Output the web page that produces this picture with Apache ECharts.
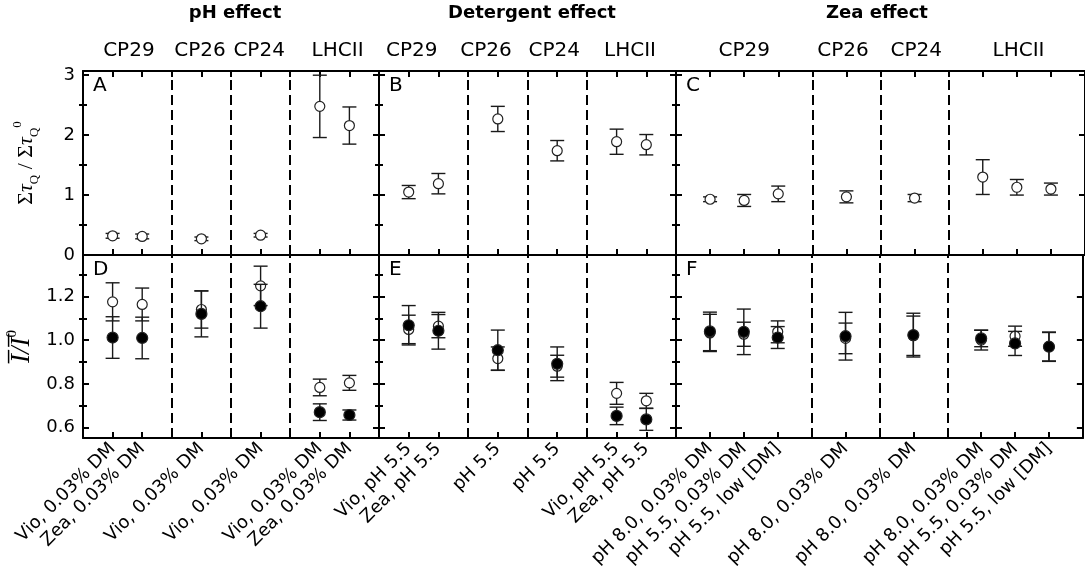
<!DOCTYPE html>
<html>
<head>
<meta charset="utf-8">
<script src="https://cdn.jsdelivr.net/npm/echarts@6/dist/echarts.min.js"></script>
<style>
  html, body { margin: 0; padding: 0; background: #fff; }
  #chart { width: 1085px; height: 573px; }
</style>
</head>
<body>
<div id="chart"></div>
<script>
// sample positions on each column's x scale (one unit per tick)
const posPH = [1, 2, 4, 6, 8, 9];
const posDet = [1, 2, 4, 6, 8, 9];
const posZea = [1, 2, 3, 5, 7, 9, 10, 11];

const labelsPH = ['Vio, 0.03% DM', 'Zea, 0.03% DM', 'Vio, 0.03% DM', 'Vio, 0.03% DM', 'Vio, 0.03% DM', 'Zea, 0.03% DM'];
const labelsDet = ['Vio, pH 5.5', 'Zea, pH 5.5', 'pH 5.5', 'pH 5.5', 'Vio, pH 5.5', 'Zea, pH 5.5'];
const labelsZea = ['pH 8.0, 0.03% DM', 'pH 5.5, 0.03% DM', 'pH 5.5, low [DM]', 'pH 8.0, 0.03% DM',
  'pH 8.0, 0.03% DM', 'pH 8.0, 0.03% DM', 'pH 5.5, 0.03% DM', 'pH 5.5, low [DM]'];

// dashed separators between proteins
const divPH = [3, 5, 7];
const divDet = [3, 5, 7];
const divZea = [4, 6, 8];

// protein names over each column and where they sit
const groupsPH = ['CP29', 'CP26', 'CP24', 'LHCII'];
const groupAtPH = [1.55, 3.95, 5.95, 8.6];
const groupsDet = ['CP29', 'CP26', 'CP24', 'LHCII'];
const groupAtDet = [1.1, 3.6, 5.9, 8.45];
const groupsZea = ['CP29', 'CP26', 'CP24', 'LHCII'];
const groupAtZea = [2, 4.9, 7.05, 10.05];

const effects = ['pH effect', 'Detergent effect', 'Zea effect'];

// top row: sum tau_Q / sum tau_Q^0 (open symbols)
const tauPH = [0.32, 0.31, 0.27, 0.33, 2.48, 2.16];
const tauErrPH = [0.04, 0.04, 0.03, 0.03, 0.52, 0.31];
const tauDet = [1.05, 1.19, 2.27, 1.74, 1.89, 1.84];
const tauErrDet = [0.11, 0.17, 0.21, 0.17, 0.21, 0.17];
const tauZea = [0.93, 0.91, 1.02, 0.97, 0.95, 1.30, 1.13, 1.10];
const tauErrZea = [0.04, 0.10, 0.13, 0.10, 0.06, 0.29, 0.13, 0.10];

// bottom row: I/I^0, open and filled symbols
const openPH = [1.175, 1.163, 1.14, 1.248, 0.784, 0.805];
const openErrPH = [0.087, 0.075, 0.085, 0.09, 0.038, 0.034];
const filledPH = [1.012, 1.01, 1.12, 1.155, 0.671, 0.658];
const filledErrPH = [0.095, 0.095, 0.105, 0.10, 0.038, 0.023];

const openDet = [1.049, 1.064, 0.916, 0.881, 0.757, 0.723];
const openErrDet = [0.065, 0.053, 0.053, 0.05, 0.05, 0.034];
const filledDet = [1.068, 1.043, 0.954, 0.892, 0.654, 0.638];
const filledErrDet = [0.09, 0.084, 0.092, 0.077, 0.04, 0.05];

const openZea = [1.033, 1.027, 1.038, 1.008, 1.02, 1.0, 1.018, 0.97];
const openErrZea = [0.085, 0.055, 0.05, 0.07, 0.09, 0.045, 0.046, 0.065];
const filledZea = [1.04, 1.038, 1.012, 1.018, 1.023, 1.008, 0.985, 0.97];
const filledErrZea = [0.088, 0.104, 0.05, 0.109, 0.10, 0.038, 0.055, 0.067];

const yTicksTop = [0, 1, 2, 3];
const yMinorTop = [0.5, 1.5, 2.5];
const yTicksBottom = [0.6, 0.8, 1.0, 1.2];
const yMinorBottom = [0.7, 0.9, 1.1, 1.3];

// layout
const colLeft = [83, 379, 676];
const colWidth = [296, 297, 416];
const colMax = [10, 10, 12];
const rowTop = [71, 255];
const rowHeight = [184, 183];
const yRange = [[0, 3.07], [0.553, 1.389]];
const FONT = 'DejaVu Sans';

const columns = [
  { pos: posPH, labels: labelsPH, div: divPH, groups: groupsPH, groupAt: groupAtPH,
    tau: tauPH, tauErr: tauErrPH, open: openPH, openErr: openErrPH, filled: filledPH, filledErr: filledErrPH },
  { pos: posDet, labels: labelsDet, div: divDet, groups: groupsDet, groupAt: groupAtDet,
    tau: tauDet, tauErr: tauErrDet, open: openDet, openErr: openErrDet, filled: filledDet, filledErr: filledErrDet },
  { pos: posZea, labels: labelsZea, div: divZea, groups: groupsZea, groupAt: groupAtZea,
    tau: tauZea, tauErr: tauErrZea, open: openZea, openErr: openErrZea, filled: filledZea, filledErr: filledErrZea }
];

function errorBar(params, api) {
  const x = api.value(0), y = api.value(1), e = api.value(2);
  const hi = api.coord([x, y + e]);
  const lo = api.coord([x, y - e]);
  const hw = 7;
  const st = { stroke: '#1a1a1a', lineWidth: 1.4 };
  return {
    type: 'group',
    children: [
      { type: 'line', shape: { x1: hi[0], y1: hi[1], x2: lo[0], y2: lo[1] }, style: st },
      { type: 'line', shape: { x1: hi[0] - hw, y1: hi[1], x2: hi[0] + hw, y2: hi[1] }, style: st },
      { type: 'line', shape: { x1: lo[0] - hw, y1: lo[1], x2: lo[0] + hw, y2: lo[1] }, style: st }
    ]
  };
}

const grid = [], xAxis = [], yAxis = [], series = [], graphic = [];
const axisLine = { show: true, onZero: false, lineStyle: { color: '#000', width: 2 } };

for (let r = 0; r < 2; r++) {
  for (let c = 0; c < 3; c++) {
    const col = columns[c];
    const g = grid.length;
    grid.push({ left: colLeft[c], top: rowTop[r], width: colWidth[c], height: rowHeight[r] });

    const xb = xAxis.length;
    xAxis.push({
      type: 'value', gridIndex: g, position: 'bottom', min: 0, max: colMax[c], interval: 1,
      axisLine, splitLine: { show: false },
      axisTick: { inside: true, length: 6, lineStyle: { color: '#000', width: 2 } },
      axisLabel: {
        show: r === 1, rotate: 45, margin: 8, fontFamily: FONT, fontSize: 18, color: '#000',
        formatter: v => { const i = col.pos.indexOf(v); return i < 0 ? '' : col.labels[i]; }
      }
    });
    xAxis.push({
      type: 'value', gridIndex: g, position: 'top', min: 0, max: colMax[c], interval: 1,
      axisLine, splitLine: { show: false },
      axisTick: { show: r === 0, inside: true, length: 6, lineStyle: { color: '#000', width: 2 } },
      axisLabel: {
        show: r === 0, customValues: col.groupAt, margin: 10, fontFamily: FONT, fontSize: 20, color: '#000',
        formatter: v => { const i = col.groupAt.indexOf(v); return i < 0 ? '' : col.groups[i]; }
      }
    });

    const majors = r === 0 ? yTicksTop : yTicksBottom;
    const minors = r === 0 ? yMinorTop : yMinorBottom;
    const yl = yAxis.length;
    ['left', 'right'].forEach(side => {
      const first = side === 'left' && c === 0;
      yAxis.push({
        type: 'value', gridIndex: g, position: side, min: yRange[r][0], max: yRange[r][1],
        axisLine, splitLine: { show: false },
        axisTick: { inside: true, length: 6, customValues: majors, lineStyle: { color: '#000', width: 2 } },
        axisLabel: {
          show: first, customValues: majors, margin: 8, fontFamily: FONT, fontSize: 18, color: '#000',
          formatter: v => r === 0 ? String(v) : v.toFixed(1)
        },
        name: first ? (r === 0
          ? '{s|Σ}{t|τ}{sub|Q}{s| / Σ}{t|τ}{sub|Q}{sup|0}'
          : '{b|I\u0305/I\u0305}{bsup|0}') : '',
        nameLocation: 'middle', nameRotate: 90, nameGap: r === 0 ? 42 : 44,
        nameTextStyle: {
          rich: {
            s: { fontFamily: 'Liberation Serif', fontSize: 22, color: '#000', lineHeight: 30 },
            t: { fontFamily: 'Liberation Serif', fontStyle: 'italic', fontSize: 22, color: '#000', lineHeight: 30 },
            sub: { fontFamily: 'Liberation Serif', fontSize: 13, color: '#000', verticalAlign: 'bottom', lineHeight: 30 },
            sup: { fontFamily: 'Liberation Serif', fontSize: 13, color: '#000', verticalAlign: 'top', lineHeight: 30 },
            b: { fontFamily: 'Liberation Serif', fontStyle: 'italic', fontSize: 27, color: '#000', lineHeight: 34 },
            bsup: { fontFamily: 'Liberation Serif', fontSize: 15, color: '#000', verticalAlign: 'top', lineHeight: 34 }
          }
        }
      });
      yAxis.push({
        type: 'value', gridIndex: g, position: side, min: yRange[r][0], max: yRange[r][1],
        axisLine: { show: false }, splitLine: { show: false }, axisLabel: { show: false },
        axisTick: { inside: true, length: 4, customValues: minors, lineStyle: { color: '#000', width: 2 } }
      });
    });

    const dividers = {
      silent: true, symbol: 'none', animation: false, label: { show: false },
      lineStyle: { color: '#000', width: 2, type: [10, 5] },
      data: col.div.map(v => ({ xAxis: v }))
    };

    const sets = r === 0
      ? [[col.tau, col.tauErr, '#fff']]
      : [[col.open, col.openErr, '#fff'], [col.filled, col.filledErr, '#000']];
    sets.forEach(([vals, errs, fill], k) => {
      const data = col.pos.map((p, i) => [p, vals[i], errs[i]]);
      series.push({
        type: 'custom', xAxisIndex: xb, yAxisIndex: yl, renderItem: errorBar,
        encode: { x: 0, y: 1 }, data, silent: true, z: 2 + k * 2,
        markLine: k === 0 ? dividers : undefined
      });
      series.push({
        type: 'scatter', xAxisIndex: xb, yAxisIndex: yl, data: data.map(d => [d[0], d[1]]),
        symbol: 'circle', symbolSize: fill === '#000' ? 11 : 10, silent: true, clip: false, z: 3 + k * 2,
        itemStyle: { color: fill, borderColor: '#222', borderWidth: 1.2, opacity: 1 }
      });
    });

    graphic.push({
      type: 'text', x: colLeft[c] + 10, y: rowTop[r] + 5,
      style: { text: 'ABCDEF'[r * 3 + c], font: '20px "DejaVu Sans"', fill: '#000' }
    });
  }
}

const effectAt = [235, 532, 877];
effects.forEach((t, i) => graphic.push({
  type: 'text', x: effectAt[i], y: 4,
  style: { text: t, align: 'center', font: 'bold 18px "DejaVu Sans"', fill: '#000' }
}));

const chart = echarts.init(document.getElementById('chart'));
chart.setOption({
  animation: false,
  backgroundColor: '#fff',
  grid, xAxis, yAxis, series, graphic
});
</script>
</body>
</html>
